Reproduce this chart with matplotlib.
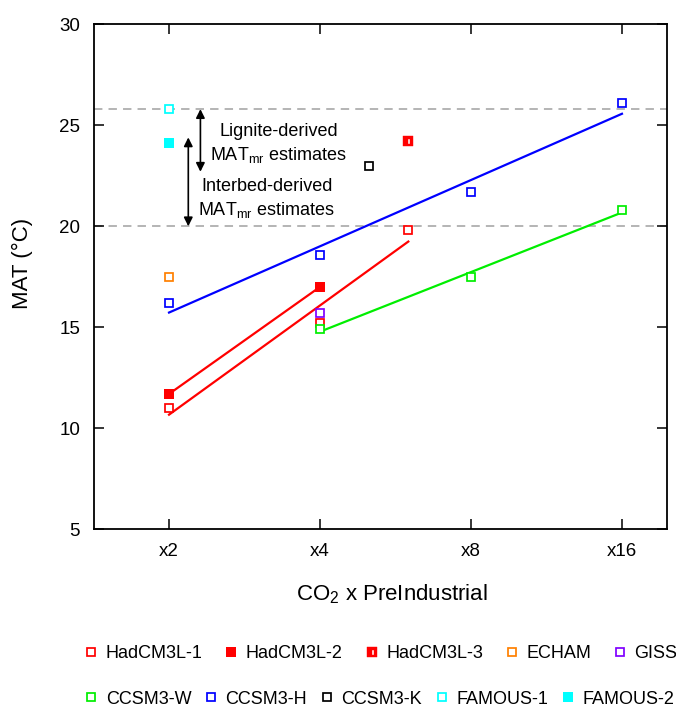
import numpy as np
import matplotlib
matplotlib.use("Agg")
import matplotlib.pyplot as plt
from matplotlib.path import Path

plt.rcParams['font.family'] = ['Liberation Sans', 'DejaVu Sans']
plt.rcParams['mathtext.fontset'] = 'custom'
plt.rcParams['mathtext.rm'] = 'Liberation Sans'

# datos (multiplo de CO2 preindustrial, MAT en °C)
hadcm3l_1_x = [2, 4, 6]
hadcm3l_1_y = [11.0, 15.2, 19.8]
hadcm3l_2_x = [2, 4]
hadcm3l_2_y = [11.7, 17.0]
hadcm3l_3_x = [6]
hadcm3l_3_y = [24.2]
echam_x = [2]
echam_y = [17.5]
giss_x = [4]
giss_y = [15.7]
ccsm3_w_x = [4, 8, 16]
ccsm3_w_y = [14.9, 17.5, 20.8]
ccsm3_h_x = [2, 4, 8, 16]
ccsm3_h_y = [16.2, 18.6, 21.7, 26.1]
ccsm3_k_x = [5]
ccsm3_k_y = [23.0]
famous_1_x = [2]
famous_1_y = [25.8]
famous_2_x = [2]
famous_2_y = [24.1]

x_ticks = [2, 4, 8, 16]
x_ticklabels = ['x2', 'x4', 'x8', 'x16']
y_ticks = [5, 10, 15, 20, 25, 30]

mat_lines = [25.8, 20.0]          # lineas discontinuas
lignite_range = [25.8, 22.7]
interbed_range = [24.4, 20.0]

# marcador medio relleno (cuadrado con hueco)
outer = [(-1, -1), (1, -1), (1, 1), (-1, 1), (-1, -1)]
inner = [(-0.1, -0.55), (-0.1, 0.45), (0.4, 0.45), (0.4, -0.55), (-0.1, -0.55)]
codes = [Path.MOVETO] + [Path.LINETO] * 3 + [Path.CLOSEPOLY]
half_marker = Path(outer + inner, codes + codes)

fig = plt.figure(figsize=(6.76, 7.10), dpi=100)
ax = fig.add_axes([0.139, 0.2545, 0.8476, 0.7113])
ax.set_xscale('log', base=2)

for y in mat_lines:
    ax.axhline(y, color='#a0a0a0', lw=1.1, ls=(0, (5.5, 4)), zorder=1)

def fit_line(xs, ys, color):
    lx = np.log2(xs)
    p = np.polyfit(lx, ys, 1)
    xx = np.array([min(lx), max(lx)])
    ax.plot(2 ** xx, np.polyval(p, xx), color=color, lw=1.6, zorder=2)

fit_line(hadcm3l_1_x, hadcm3l_1_y, 'red')
fit_line(hadcm3l_2_x, hadcm3l_2_y, 'red')
fit_line(ccsm3_h_x, ccsm3_h_y, 'blue')
fit_line(ccsm3_w_x, ccsm3_w_y, '#00ee00')

op = dict(ls='none', marker='s', ms=5.6, mew=1.25, mfc='white', zorder=4)
fp = dict(ls='none', marker='s', ms=7.9, mew=0, zorder=4)

h1, = ax.plot(hadcm3l_1_x, hadcm3l_1_y, mec='red', label='HadCM3L-1', **op)
h2, = ax.plot(hadcm3l_2_x, hadcm3l_2_y, mfc='red', label='HadCM3L-2', **fp)
h3, = ax.plot(hadcm3l_3_x, hadcm3l_3_y, ls='none', marker=half_marker, ms=6.8,
              mfc='red', mec='red', mew=0.3, zorder=4, label='HadCM3L-3')
h4, = ax.plot(echam_x, echam_y, mec='#ff8000', label='ECHAM', **op)
h5, = ax.plot(giss_x, giss_y, mec='#8000ff', label='GISS', **op)
h6, = ax.plot(ccsm3_w_x, ccsm3_w_y, mec='#00ee00', label='CCSM3-W', **op)
h7, = ax.plot(ccsm3_h_x, ccsm3_h_y, mec='blue', label='CCSM3-H', **op)
h8, = ax.plot(ccsm3_k_x, ccsm3_k_y, mec='black', label='CCSM3-K', **op)
h9, = ax.plot(famous_1_x, famous_1_y, mec='cyan', label='FAMOUS-1', **op)
h10, = ax.plot(famous_2_x, famous_2_y, mfc='cyan', label='FAMOUS-2', **fp)

# flechas y textos
ap = dict(arrowstyle='<|-|>', color='black', lw=1.2, mutation_scale=13,
          shrinkA=0, shrinkB=0)
ax.annotate('', xy=(2.31, lignite_range[0]), xytext=(2.31, lignite_range[1]),
            arrowprops=ap)
ax.annotate('', xy=(2.185, interbed_range[0]), xytext=(2.185, interbed_range[1]),
            arrowprops=ap)
sub = r'MAT$_{\mathregular{mr}}$ estimates'
ax.text(3.31, 24.68, 'Lignite-derived', ha='center', va='center', fontsize=13)
ax.text(3.31, 23.55, sub, ha='center', va='center', fontsize=13)
ax.text(3.13, 21.96, 'Interbed-derived', ha='center', va='center', fontsize=13)
ax.text(3.13, 20.83, sub, ha='center', va='center', fontsize=13)

ax.set_xlim(1.417, 19.67)
ax.set_ylim(5, 30)
ax.set_xticks(x_ticks)
ax.set_xticklabels(x_ticklabels)
ax.minorticks_off()
ax.set_yticks(y_ticks)
ax.tick_params(direction='in', top=True, right=True, length=7, width=1.1,
               labelsize=13.5)
ax.tick_params(axis='y', pad=10)
ax.tick_params(axis='x', pad=10)
for s in ax.spines.values():
    s.set_linewidth(1.3)

fig.text(22 / 676, 1 - 263 / 710, 'MAT (°C)', rotation=90, ha='center',
         va='center', fontsize=16)
fig.text(392 / 676, 1 - 594 / 710, r'CO$_{\mathregular{2}}$ x PreIndustrial',
         ha='center', va='center', fontsize=16)

lk = dict(loc='center left', frameon=False, borderpad=0, borderaxespad=0,
          handlelength=0.8, handletextpad=0.4, fontsize=13, ncol=5,
          numpoints=1)
fig.legend(handles=[h1, h2, h3, h4, h5], bbox_to_anchor=(84 / 676, 1 - 654 / 710),
           columnspacing=1.2, **lk)
fig.legend(handles=[h6, h7, h8, h9, h10], bbox_to_anchor=(84 / 676, 1 - 699 / 710),
           columnspacing=0.7, **lk)

fig.savefig('out.png', dpi=100)
